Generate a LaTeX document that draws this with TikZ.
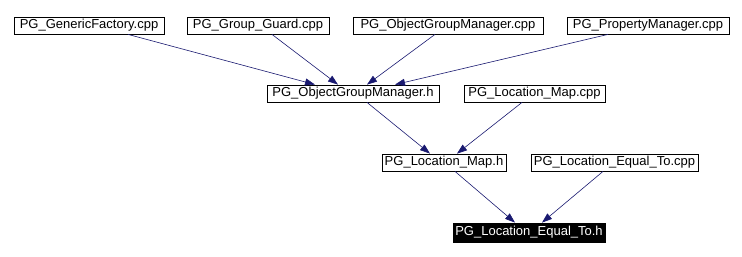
\documentclass[tikz,border=0pt]{standalone}
\usepackage{fontspec}
\setmainfont{Liberation Sans}
\usetikzlibrary{arrows.meta}
\definecolor{edgeblue}{RGB}{25,25,112}
\begin{document}
\begin{tikzpicture}[x=1pt,y=-1pt,
  file/.style={draw=black, line width=0.8pt, fill=white, inner sep=0pt,
    minimum height=17pt, font=\fontsize{13}{13}\selectfont, anchor=center},
  current/.style={file, fill=black, text=white, minimum height=19pt},
  dep/.style={draw=edgeblue, line width=0.6pt,
    -{Triangle[length=10pt,width=7pt,fill=edgeblue]}}]
\useasboundingbox (0,0) rectangle (742,257);
% source files and headers
\node[file, minimum width=150pt] (gf)    at (89,25.5)   {PG\_GenericFactory.cpp};
\node[file, minimum width=142pt] (gg)    at (258,25.5)  {PG\_Group\_Guard.cpp};
\node[file, minimum width=190pt] (ogmc)  at (448,25.5)  {PG\_ObjectGroupManager.cpp};
\node[file, minimum width=162pt] (pm)    at (648,25.5)  {PG\_PropertyManager.cpp};
\node[file, minimum width=172pt] (ogmh)  at (353,93.5)  {PG\_ObjectGroupManager.h};
\node[file, minimum width=141pt] (lmc)   at (534.5,93.5){PG\_Location\_Map.cpp};
\node[file, minimum width=124pt] (lmh)   at (444,162.5) {PG\_Location\_Map.h};
\node[file, minimum width=167pt] (lec)   at (614.5,162.5){PG\_Location\_Equal\_To.cpp};
\node[current, minimum width=152pt] (leh) at (529,232.5) {PG\_Location\_Equal\_To.h};
% include dependencies
\draw[dep] ([xshift=39pt]gf.south)    -- ([xshift=-38pt]ogmh.north);
\draw[dep] ([xshift=14pt]gg.south)    -- ([xshift=-15pt]ogmh.north);
\draw[dep] ([xshift=-13pt]ogmc.south) -- ([xshift=14pt]ogmh.north);
\draw[dep] ([xshift=-40pt]pm.south)   -- ([xshift=42pt]ogmh.north);
\draw[dep] ([xshift=14pt]ogmh.south)  -- ([xshift=-14pt]lmh.north);
\draw[dep] ([xshift=-12.5pt]lmc.south)-- ([xshift=13pt]lmh.north);
\draw[dep] ([xshift=11pt]lmh.south)   -- ([xshift=-14pt]leh.north);
\draw[dep] ([xshift=-11.5pt]lec.south)-- ([xshift=13pt]leh.north);
\end{tikzpicture}
\end{document}
